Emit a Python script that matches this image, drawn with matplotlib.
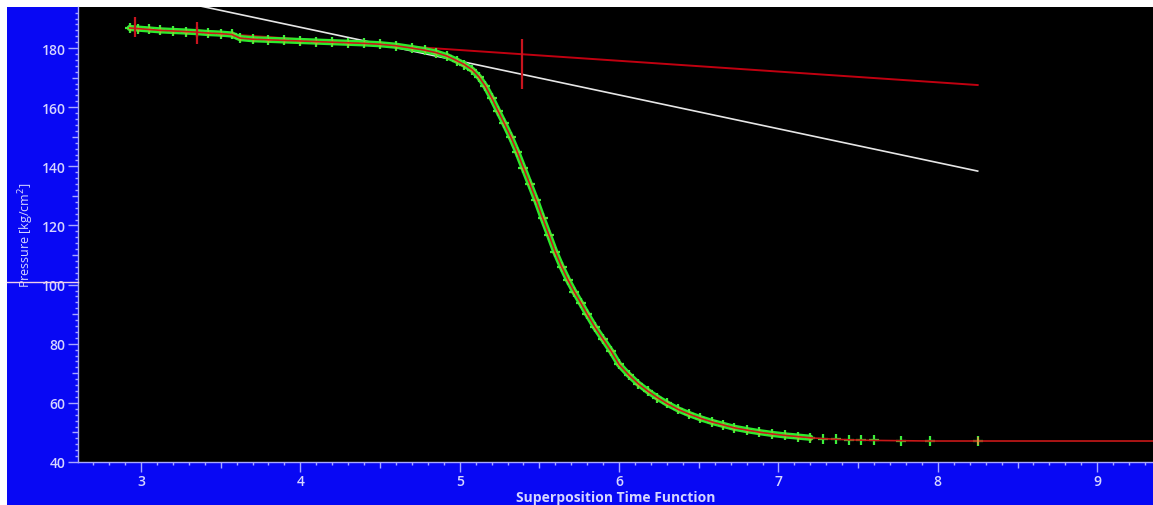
import numpy as np
import matplotlib
matplotlib.use("Agg")
import matplotlib.pyplot as plt
from matplotlib.patches import Rectangle

# Measured pressure vs superposition time function
stf = [2.93, 2.98, 3.05, 3.12, 3.20, 3.28, 3.35, 3.42, 3.50, 3.57,
       3.62, 3.70, 3.80, 3.90, 4.00, 4.10, 4.20, 4.30, 4.40, 4.50,
       4.60, 4.70, 4.78, 4.85, 4.92, 4.98, 5.03, 5.08, 5.12, 5.16,
       5.20, 5.24, 5.28, 5.32, 5.36, 5.40, 5.44, 5.48, 5.52, 5.56,
       5.60, 5.64, 5.68, 5.72, 5.76, 5.80, 5.85, 5.90, 5.95, 6.00,
       6.06, 6.12, 6.18, 6.24, 6.30, 6.37, 6.44, 6.51, 6.58, 6.65,
       6.72, 6.80, 6.88, 6.96, 7.04, 7.12, 7.20, 7.28, 7.36, 7.44,
       7.52, 7.60, 7.77, 7.95, 8.25]
pressure = [186.8, 186.6, 186.3, 186.0, 185.8, 185.6, 185.4, 185.1, 184.9, 184.6,
            183.4, 183.0, 182.8, 182.6, 182.4, 182.2, 182.0, 181.8, 181.6, 181.3,
            180.8, 180.0, 179.3, 178.5, 177.3, 175.8, 174.4, 172.6, 170.3, 167.2,
            163.2, 158.8, 154.5, 150.0, 145.0, 139.5, 134.0, 128.5, 122.5, 116.8,
            111.0, 106.0, 101.5, 97.5, 93.8, 90.0, 85.5, 81.5, 77.5, 73.0,
            69.5, 66.5, 64.0, 61.8, 59.8, 57.8, 56.2, 54.8, 53.6, 52.6,
            51.6, 50.8, 50.1, 49.5, 49.0, 48.6, 48.2, 47.9, 47.7, 47.5,
            47.4, 47.3, 47.2, 47.1, 47.1]

# Model curve continues past the last measurement
model_x = stf + [9.40]
model_p = pressure + [47.1]

# Straight-line fits
red_fit_x = [2.93, 8.25]
red_fit_p = [186.9, 167.5]
white_fit_x = [3.20, 8.25]
white_fit_p = [196.2, 138.4]

# Vertical cursor markers
cursor_x = [2.96, 3.35, 5.39]
cursor_lo = [183.7, 181.4, 166.1]
cursor_hi = [190.5, 188.8, 183.1]

y_ticks = [40, 60, 80, 100, 120, 140, 160, 180]
x_ticks = [3, 4, 5, 6, 7, 8, 9]

W, H = 1153, 506
fig = plt.figure(figsize=(W / 100, H / 100), dpi=100, facecolor="white")
bg = Rectangle((7 / W, 0), 1 - 7 / W, (H - 8) / H, transform=fig.transFigure,
               facecolor="#0808F4", edgecolor="none", zorder=-10)
fig.add_artist(bg)

ax = fig.add_axes([78 / W, (H - 463) / H, 1 - 78 / W, (463 - 8) / H])
ax.set_zorder(1)
ax.set_facecolor("black")

axis_col = "#A8A8FF"
text_col = "#D6D6FF"
for s in ["top", "right"]:
    ax.spines[s].set_visible(False)
for s in ["left", "bottom"]:
    ax.spines[s].set_color(axis_col)
    ax.spines[s].set_linewidth(1.0)

# Major ticks every 10 / 0.5; only every other one is labelled and long
y_major = list(range(40, 181, 10))
ax.set_yticks(y_major)
ax.set_yticklabels([str(v) if v in y_ticks else "" for v in y_major])
ax.set_yticks(np.arange(40, 194, 2), minor=True)
x_major = [3.0 + 0.5 * i for i in range(13)]
ax.set_xticks(x_major)
ax.set_xticklabels([str(int(v)) if v in x_ticks else "" for v in x_major])
ax.set_xticks(np.arange(2.7, 9.36, 0.1), minor=True)

ax.set_xlim(2.605, 9.35)
ax.set_ylim(40, 193.9)

ax.tick_params(axis="both", which="major", colors=axis_col, labelcolor=text_col,
               length=7, width=1.0, labelsize=10, pad=2)
ax.tick_params(axis="both", which="minor", colors=axis_col, length=2, width=1.0)
for t, v in zip(ax.yaxis.get_major_ticks(), y_major):
    if v not in y_ticks:
        t.tick1line.set_markersize(4)
for t, v in zip(ax.xaxis.get_major_ticks(), x_major):
    if v not in x_ticks:
        t.tick1line.set_markersize(4)
for lbl in ax.get_xticklabels() + ax.get_yticklabels():
    lbl.set_fontfamily("Open Sans")
    lbl.set_fontweight("semibold")

ax.set_xlabel("Superposition Time Function", color=text_col, fontsize=10,
              fontweight="bold", family="Open Sans", labelpad=1)
ax.set_ylabel("Pressure [kg/cm$^2$]", color=text_col, fontsize=9,
              family="Open Sans", labelpad=4)

# Fit lines
ax.plot(white_fit_x, white_fit_p, color="#E6E6E6", lw=1.2, zorder=2)
ax.plot(red_fit_x, red_fit_p, color="#C00010", lw=1.4, zorder=2)

# Measured data: dense band plus individual markers
sx = np.array(stf)
sp = np.array(pressure)
dense = sx <= 7.2
ax.plot(sx[dense], sp[dense], color="#2CEB2C", lw=4.5, zorder=3, solid_capstyle="round")
ax.plot(sx, sp, ls="none", marker="+", ms=7, mew=1.6, color="#3BF03B", zorder=4)
ax.plot(sx[dense], sp[dense], ls="none", marker="+", ms=5, mew=1.0,
        color="#C8B030", alpha=0.7, zorder=4)
ax.plot(model_x, model_p, color="#C81818", lw=1.2, zorder=5)
ax.plot([8.25], [47.1], ls="none", marker="|", ms=6, mew=1.2, color="#D8A040", zorder=6)

# Cursor markers
ax.vlines(cursor_x, cursor_lo, cursor_hi, color="#C8141E", lw=1.6, zorder=6)

# Horizontal crosshair in the margin at the 100 level
ax.plot([-71 / 1075, 0], [100.8, 100.8], transform=ax.get_yaxis_transform(),
        color="#F0D0E8", lw=1.0, clip_on=False, zorder=7)

fig.savefig("out.png", dpi=100, facecolor="white")
